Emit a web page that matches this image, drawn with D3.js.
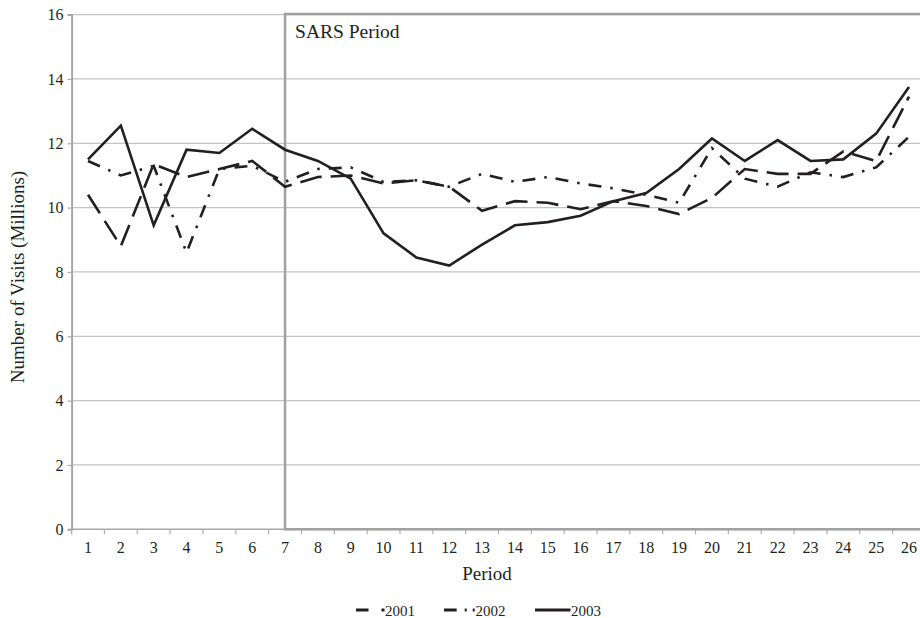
<!DOCTYPE html>
<html><head><meta charset="utf-8">
<script src="https://cdn.jsdelivr.net/npm/d3@7"></script>
<style>
body{margin:0;background:#fff;overflow:hidden}
svg{display:block}
</style>
</head><body>
<svg id="c" width="920" height="618"></svg>
<script>
const periods = ["1","2","3","4","5","6","7","8","9","10","11","12","13","14","15","16","17","18","19","20","21","22","23","24","25","26"];
const visits2001 = [10.4, 8.8, 11.35, 10.95, 11.2, 11.45, 10.65, 10.95, 11.0, 10.75, 10.85, 10.65, 9.9, 10.2, 10.15, 9.95, 10.2, 10.05, 9.8, 10.3, 11.2, 11.05, 11.05, 11.75, 11.45, 13.45];
const visits2002 = [11.45, 11.0, 11.3, 8.6, 11.2, 11.3, 10.8, 11.2, 11.25, 10.8, 10.85, 10.65, 11.05, 10.8, 10.95, 10.75, 10.6, 10.4, 10.15, 11.85, 10.9, 10.65, 11.1, 10.95, 11.25, 12.2];
const visits2003 = [11.5, 12.55, 9.45, 11.8, 11.7, 12.45, 11.8, 11.45, 10.9, 9.2, 8.45, 8.2, 8.85, 9.45, 9.55, 9.75, 10.2, 10.45, 11.2, 12.15, 11.45, 12.1, 11.45, 11.5, 12.3, 13.75];
const seriesNames = ["2001", "2002", "2003"];
const yTicks = [0, 2, 4, 6, 8, 10, 12, 14, 16];
const sarsStart = "7";
const sarsLabel = "SARS Period";
const xTitle = "Period";
const yTitle = "Number of Visits (Millions)";

const FONT = '"Liberation Serif", "Times New Roman", Times, "DejaVu Serif", serif';
const series = [
  {name: seriesNames[0], values: visits2001, dash: "22,9", legendDash: "12.5,13,3,40"},
  {name: seriesNames[1], values: visits2002, dash: "13,9,2.5,9", legendDash: "12.7,8,2,6,2,40"},
  {name: seriesNames[2], values: visits2003, dash: null, legendDash: null}
];

const svg = d3.select("#c");
const pLeft = 71.6, pRight = 925.4, pTop = 14.6, pBottom = 529.3;
const x = d3.scaleBand().domain(periods).range([pLeft, pRight]).padding(0);
const xc = p => x(p) + x.bandwidth() / 2;
const y = d3.scaleLinear().domain([0, 16]).range([pBottom, pTop]);
const ink = "#231f20";

// gridlines
svg.append("g").selectAll("line").data(yTicks.filter(t => t > 0)).join("line")
  .attr("x1", pLeft).attr("x2", pRight)
  .attr("y1", d => y(d)).attr("y2", d => y(d))
  .attr("stroke", "#c4c4c4").attr("stroke-width", 1.2);

// y axis
const yAxis = svg.append("g").attr("transform", `translate(${pLeft},0)`)
  .call(d3.axisLeft(y).tickValues(yTicks).tickSize(4).tickPadding(4).tickFormat(d3.format("d")));
yAxis.attr("font-family", FONT).attr("font-size", 16);
yAxis.select(".domain").attr("stroke", "#a8a8a8").attr("stroke-width", 2);
yAxis.selectAll(".tick line").attr("stroke", "#a8a8a8").attr("stroke-width", 1.2);
yAxis.selectAll("text").attr("fill", ink);

// x axis labels
const xAxis = svg.append("g").attr("transform", `translate(0,${pBottom})`)
  .call(d3.axisBottom(x).tickSize(0).tickPadding(12));
xAxis.attr("font-family", FONT).attr("font-size", 16);
xAxis.select(".domain").remove();
xAxis.selectAll("text").attr("fill", ink);

// x axis line and boundary ticks
svg.append("line").attr("x1", pLeft).attr("x2", pRight).attr("y1", pBottom).attr("y2", pBottom)
  .attr("stroke", "#a8a8a8").attr("stroke-width", 1.5);
svg.append("g").selectAll("line").data(periods).join("line")
  .attr("x1", d => x(d)).attr("x2", d => x(d))
  .attr("y1", pBottom).attr("y2", pBottom + 5)
  .attr("stroke", "#b0b0b0").attr("stroke-width", 1.2);

// SARS box
const sx = xc(sarsStart);
svg.append("rect")
  .attr("x", sx).attr("y", y(16) - 0.6)
  .attr("width", pRight - sx + 20).attr("height", pBottom - y(16) + 0.6)
  .attr("fill", "none").attr("stroke", "#a0a0a0").attr("stroke-width", 2.5);
svg.append("text").attr("x", sx + 10).attr("y", 38)
  .attr("font-family", FONT).attr("font-size", 19.5).attr("fill", ink).text(sarsLabel);

// lines
const line = d3.line().x((d, i) => xc(periods[i])).y(d => y(d));
svg.append("g").selectAll("path").data(series).join("path")
  .attr("d", d => line(d.values))
  .attr("fill", "none").attr("stroke", ink).attr("stroke-width", 2.6)
  .attr("stroke-linejoin", "miter")
  .attr("stroke-dasharray", d => d.dash);

// titles
svg.append("text").attr("x", 487).attr("y", 580)
  .attr("text-anchor", "middle").attr("font-family", FONT).attr("font-size", 19).attr("fill", ink).text(xTitle);
svg.append("text").attr("transform", "translate(24,277) rotate(-90)")
  .attr("text-anchor", "middle").attr("font-family", FONT).attr("font-size", 19).attr("fill", ink).text(yTitle);

// legend
const legendPos = [{x0: 356, x1: 384.5}, {x0: 444, x1: 475}, {x0: 535, x1: 570.5}];
const lg = svg.append("g").selectAll("g").data(series).join("g");
lg.append("line")
  .attr("x1", (d, i) => legendPos[i].x0).attr("x2", (d, i) => legendPos[i].x1)
  .attr("y1", 610).attr("y2", 610)
  .attr("stroke", ink).attr("stroke-width", 3)
  .attr("stroke-dasharray", d => d.legendDash);
lg.append("text")
  .attr("x", (d, i) => legendPos[i].x1 + 0.5).attr("y", 615.5)
  .attr("font-family", FONT).attr("font-size", 15).attr("fill", ink).text(d => d.name);
</script>
</body></html>
